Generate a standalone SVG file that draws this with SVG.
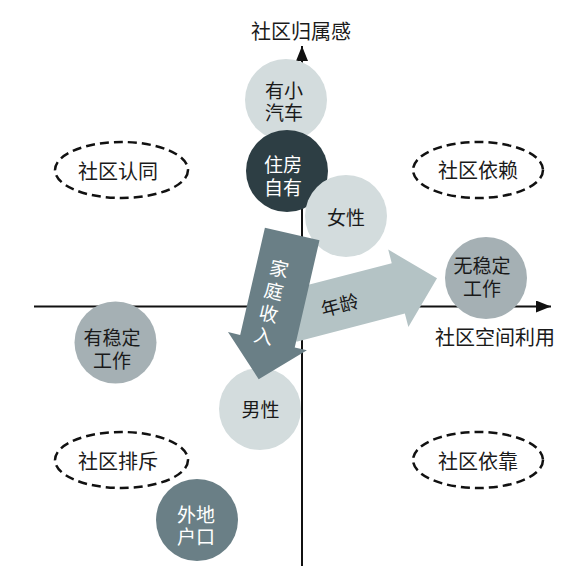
<svg xmlns="http://www.w3.org/2000/svg" width="564" height="579" viewBox="0 0 564 579">
<defs>
<style>
text{font-family:"Noto Sans CJK SC","Noto Sans CJK JP",sans-serif;font-size:19px;fill:#1a1a1a;text-anchor:middle;dominant-baseline:central}
.w{fill:#ffffff}
.axis{stroke:#111;stroke-width:2;fill:none}
.dash{fill:none;stroke:#111;stroke-width:2.5;stroke-dasharray:9 5}
.c-light{fill:#d3dcdd}
.c-mid{fill:#a5b0b4}
.c-dark{fill:#2d3e44}
.c-slate{fill:#6a7f86}
.lbl{font-size:20px}
</style>
<marker id="ah" viewBox="0 0 15 12" refX="15" refY="6" markerWidth="15" markerHeight="12" markerUnits="userSpaceOnUse" orient="auto">
<path d="M0,0 L15,6 L0,12 Z" fill="#111"/>
</marker>
</defs>
<rect width="564" height="579" fill="#ffffff"/>
<g id="connectors">
<line class="axis" x1="302" y1="566" x2="302" y2="46" marker-end="url(#ah)"/>
<line class="axis" x1="34" y1="306.5" x2="551" y2="306.5" marker-end="url(#ah)"/>
</g>
<g id="axis-labels">
<text class="lbl" x="301" y="30">社区归属感</text>
<text class="lbl" x="495" y="336">社区空间利用</text>
</g>
<g id="zone-identity"><ellipse class="dash" cx="121.5" cy="170" rx="66.5" ry="28"/><text class="lbl" x="118" y="170">社区认同</text></g>
<g id="zone-dependence"><ellipse class="dash" cx="478" cy="170" rx="65" ry="28"/><text class="lbl" x="478" y="169">社区依赖</text></g>
<g id="zone-exclusion"><ellipse class="dash" cx="121.5" cy="460" rx="66.5" ry="28"/><text class="lbl" x="118" y="460">社区排斥</text></g>
<g id="zone-reliance"><ellipse class="dash" cx="478" cy="460" rx="65" ry="28"/><text class="lbl" x="478" y="460">社区依靠</text></g>
<g id="node-car"><circle class="c-light" cx="286" cy="100" r="41"/><text><tspan x="284" y="89">有小</tspan><tspan x="284" y="111">汽车</tspan></text></g>
<g id="node-house"><circle class="c-dark" cx="287" cy="171" r="41"/><text class="w"><tspan x="283" y="162.5">住房</tspan><tspan x="283" y="186">自有</tspan></text></g>
<g id="node-female"><circle class="c-light" cx="346" cy="216" r="41"/><text x="346" y="216.5">女性</text></g>
<g id="node-nostable"><circle class="c-mid" cx="486" cy="278" r="41"/><text><tspan x="482" y="264">无稳定</tspan><tspan x="482" y="286.5">工作</tspan></text></g>
<g id="node-stable"><circle class="c-mid" cx="115.5" cy="342.5" r="41"/><text><tspan x="112" y="335.5">有稳定</tspan><tspan x="112" y="359">工作</tspan></text></g>
<g id="node-male"><circle class="c-light" cx="260" cy="409" r="41"/><text x="260.5" y="408.5">男性</text></g>
<g id="node-nonlocal"><circle class="c-slate" cx="197" cy="520" r="41"/><text class="w"><tspan x="196" y="513">外地</tspan><tspan x="196" y="535">户口</tspan></text></g>
<g id="arrow-age" transform="translate(398.3,288.3) rotate(-14.6)">
<polygon points="-112,-26 0,-26 0,-40 40,0 0,40 0,26 -112,26" fill="#b4c3c5"/>
<text x="-61" y="0">年龄</text>
</g>
<g id="arrow-income" transform="translate(292.2,234) rotate(13)">
<polygon points="-28,0 28,0 28,110 40.5,110 0,149 -40.5,110 -28,110" fill="#6a7f86"/>
<text class="w"><tspan x="-5" y="35">家</tspan><tspan x="-5" y="58">庭</tspan><tspan x="-5" y="81">收</tspan><tspan x="-5" y="104">入</tspan></text>
</g>
</svg>
